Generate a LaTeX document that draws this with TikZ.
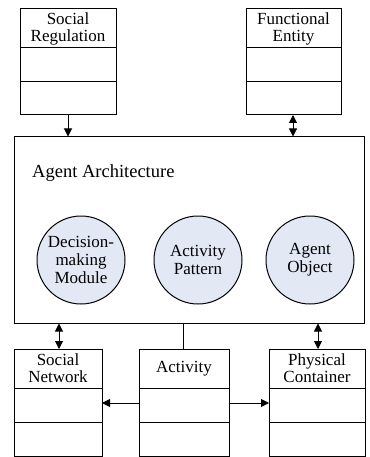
\documentclass[tikz,border=0pt]{standalone}
\usepackage{fontspec}
\setmainfont{Liberation Serif}
\usetikzlibrary{arrows.meta}
\definecolor{circfill}{RGB}{226,233,245}
\tikzset{
  box/.style={draw, line width=1pt},
  lbl/.style={font=\fontsize{17}{17}\selectfont, align=center, inner sep=0pt},
  circ/.style={draw, line width=1pt, fill=circfill, circle, minimum size=88pt, inner sep=0pt, align=center, font=\fontsize{17}{18}\selectfont},
  arr/.style={line width=1pt, -{Triangle[length=8pt,width=8pt]}},
  darr/.style={line width=1pt, {Triangle[length=8pt,width=8pt]}-{Triangle[length=8pt,width=8pt]}},
  ln/.style={line width=1pt}
}
\begin{document}
\begin{tikzpicture}[x=1pt,y=-1pt]
\useasboundingbox (0,0) rectangle (369,457);
% class boxes: left, right, top, div1, div2, bottom
\newcommand{\classbox}[7]{%
  \draw[box] (#1,#3) rectangle (#2,#6);
  \draw[box] (#1,#4) -- (#2,#4);
  \draw[box] (#1,#5) -- (#2,#5);
  \node[lbl] (#7) at ({(#1+#2)/2},{(#3+#4)/2}) {};
}
\classbox{20}{116}{9}{48}{82}{115}{sr}
\classbox{246}{341}{9}{48}{82}{115}{fe}
\classbox{14}{102}{349}{388}{422}{456}{sn}
\classbox{139}{229}{349}{388}{422}{456}{act}
\classbox{269}{365}{349}{388}{422}{456}{pc}
\node[lbl] at (sr) {Social\\Regulation};
\node[lbl] at (fe) {Functional\\Entity};
\node[lbl] at (sn) {Social\\Network};
\node[lbl] at (act) {Activity};
\node[lbl] at (pc) {Physical\\Container};
% big box
\node[draw, line width=1pt, minimum width=350pt, minimum height=186pt, inner sep=0pt] (arch) at (189,230) {};
\node[lbl, font=\fontsize{18.5}{19}\selectfont, anchor=west] (archlbl) at (32,173) {Agent Architecture};
\node[circ] (dm) at (81,260) {Decision-\\making\\Module};
\node[circ] (ap) at (198,260) {Activity\\Pattern};
\node[circ] (ao) at (310,260) {Agent\\Object};
% connectors
\coordinate (srb) at (68,115);
\coordinate (feb) at (293,115);
\coordinate (snt) at (59,349);
\coordinate (pct) at (318,349);
\coordinate (actt) at (183,349);
\coordinate (actl) at (139,403);
\coordinate (actr) at (229,403);
\coordinate (snr) at (102,403);
\coordinate (pcl) at (269,403);
\draw[arr] (srb) -- (srb |- arch.north);
\draw[darr] (feb) -- (feb |- arch.north);
\draw[darr] (snt |- arch.south) -- (snt);
\draw[darr] (pct |- arch.south) -- (pct);
\draw[ln] (actt |- arch.south) -- (actt);
\draw[arr] (actl) -- (snr);
\draw[arr] (actr) -- (pcl);
\end{tikzpicture}
\end{document}
